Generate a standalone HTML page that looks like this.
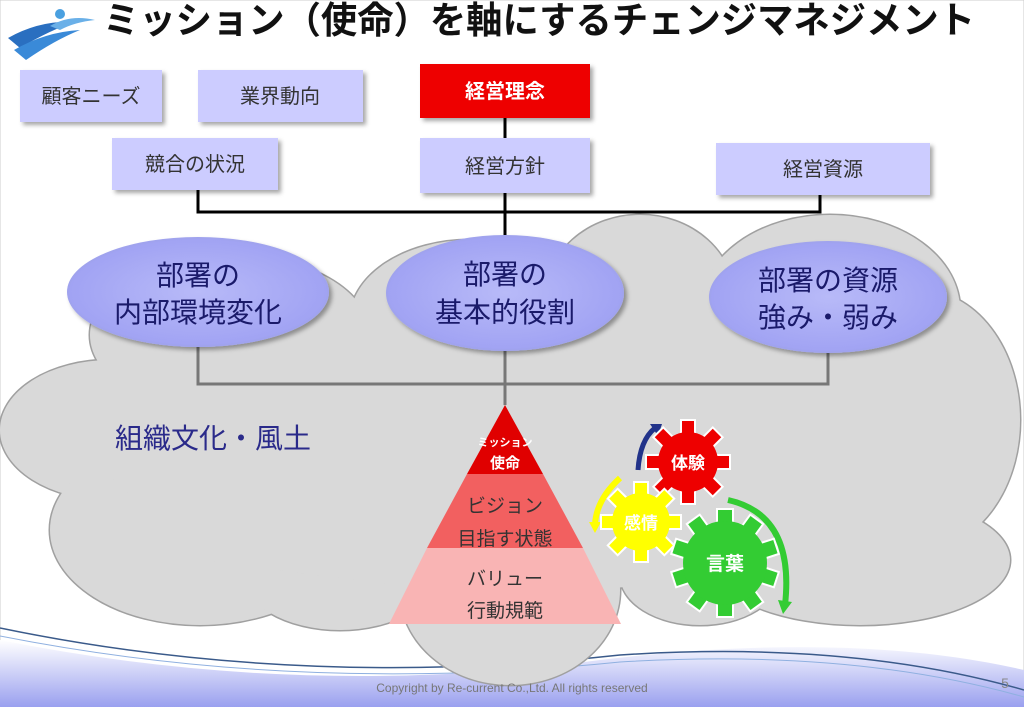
<!DOCTYPE html>
<html><head><meta charset="utf-8"><style>
body{margin:0;width:1024px;height:707px;overflow:hidden;background:#fff;font-family:"Liberation Sans","Noto Sans CJK JP",sans-serif}
svg text{font-family:"Liberation Sans","Noto Sans CJK JP",sans-serif}
</style></head><body>
<svg width="1024" height="707" viewBox="0 0 1024 707" xmlns="http://www.w3.org/2000/svg">
<defs>
<linearGradient id="bot" x1="0" y1="0" x2="0" y2="1"><stop offset="0" stop-color="#fff"/><stop offset="1" stop-color="#9aa0ef"/></linearGradient>
<radialGradient id="ell" cx="0.5" cy="0.5" r="0.6"><stop offset="0" stop-color="#b8baf8"/><stop offset="1" stop-color="#9c9ef2"/></radialGradient>
<filter id="sh"><feDropShadow dx="3" dy="3" stdDeviation="2" flood-color="#000" flood-opacity="0.35"/></filter>
</defs>
<rect x="0" y="0" width="1024" height="707" fill="#fff"/>
<rect x="0" y="0" width="1024" height="707" fill="none" stroke="#ccc"/>
<path d="M0 640 Q300 700 600 660 Q850 630 1024 670 L1024 707 L0 707Z" fill="url(#bot)"/>
<path d="M0 628 Q300 690 620 655 Q850 640 1024 690" fill="none" stroke="#3a5a8a" stroke-width="1.5"/>
<path d="M0 636 Q300 695 620 662 Q850 648 1024 697" fill="none" stroke="#8fb0e0" stroke-width="1"/>
<g fill="#d9d9d9" stroke="#a0a0a0" stroke-width="3">
<ellipse cx="230" cy="335" rx="140" ry="80"/>
<ellipse cx="470" cy="320" rx="120" ry="80"/>
<ellipse cx="640" cy="300" rx="95" ry="85"/>
<ellipse cx="830" cy="310" rx="130" ry="95"/>
<ellipse cx="920" cy="420" rx="100" ry="130"/>
<ellipse cx="110" cy="430" rx="110" ry="70"/>
<ellipse cx="200" cy="530" rx="150" ry="95"/>
<ellipse cx="340" cy="570" rx="100" ry="60"/>
<ellipse cx="510" cy="590" rx="110" ry="95"/>
<ellipse cx="860" cy="560" rx="150" ry="65"/>
<ellipse cx="700" cy="575" rx="80" ry="50"/>
</g>
<g fill="#d9d9d9">
<ellipse cx="230" cy="335" rx="140" ry="80"/>
<ellipse cx="470" cy="320" rx="120" ry="80"/>
<ellipse cx="640" cy="300" rx="95" ry="85"/>
<ellipse cx="830" cy="310" rx="130" ry="95"/>
<ellipse cx="920" cy="420" rx="100" ry="130"/>
<ellipse cx="110" cy="430" rx="110" ry="70"/>
<ellipse cx="200" cy="530" rx="150" ry="95"/>
<ellipse cx="340" cy="570" rx="100" ry="60"/>
<ellipse cx="510" cy="590" rx="110" ry="95"/>
<ellipse cx="860" cy="560" rx="150" ry="65"/>
<ellipse cx="700" cy="575" rx="80" ry="50"/>
<polygon points="120,330 900,300 950,500 860,560 510,600 200,560 60,430"/>
</g>
<g>
<path d="M8 38 Q40 20 75 22 Q50 30 20 48Z" fill="#2a6fc0"/>
<path d="M14 50 Q45 32 80 30 Q55 40 26 60Z" fill="#3a8ad8"/>
<path d="M50 26 Q70 14 95 20 Q75 22 60 30Z" fill="#6ab0e8"/>
<circle cx="60" cy="14" r="5" fill="#4aa0e0"/>
</g>
<text x="103" y="33" font-size="37" font-weight="bold" fill="#111" textLength="872" lengthAdjust="spacingAndGlyphs">ミッション（使命）を軸にするチェンジマネジメント</text>
<g stroke="#000" stroke-width="3" fill="none">
<line x1="505" y1="118" x2="505" y2="245"/>
<polyline points="198,190 198,212 820,212 820,195"/>
</g>
<g filter="url(#sh)">
<rect x="20" y="70" width="142" height="52" fill="#ccccff"/>
<rect x="198" y="70" width="165" height="52" fill="#ccccff"/>
<rect x="420" y="64" width="170" height="54" fill="#ee0000"/>
<rect x="112" y="138" width="166" height="52" fill="#ccccff"/>
<rect x="420" y="138" width="170" height="55" fill="#ccccff"/>
<rect x="716" y="143" width="214" height="52" fill="#ccccff"/>
</g>
<g font-size="20" fill="#333" text-anchor="middle">
<text x="91" y="103">顧客ニーズ</text>
<text x="280" y="103">業界動向</text>
<text x="505" y="98" fill="#fff" font-weight="bold">経営理念</text>
<text x="195" y="171">競合の状況</text>
<text x="505" y="173">経営方針</text>
<text x="823" y="176">経営資源</text>
</g>
<g stroke="#777" stroke-width="3" fill="none">
<polyline points="198,340 198,384 828,384 828,345"/>
<line x1="505" y1="345" x2="505" y2="405"/>
</g>
<g stroke="#a0a3ee" stroke-width="2" fill="url(#ell)" filter="url(#sh)">
<ellipse cx="198" cy="292" rx="130" ry="54"/>
<ellipse cx="505" cy="293" rx="118" ry="57"/>
<ellipse cx="828" cy="297" rx="118" ry="55"/>
</g>
<g font-size="28" fill="#1a1a6a" text-anchor="middle">
<text x="198" y="285">部署の</text><text x="198" y="322">内部環境変化</text>
<text x="505" y="284">部署の</text><text x="505" y="322">基本的役割</text>
<text x="828" y="290">部署の資源</text><text x="828" y="327">強み・弱み</text>
</g>
<text x="115" y="448" font-size="28" fill="#2a2a8a">組織文化・風土</text>
<polygon points="505,405 543,474 467,474" fill="#e00000"/>
<polygon points="467,474 543,474 583,548 427,548" fill="#f26060"/>
<polygon points="427,548 583,548 621,624 389,624" fill="#f9b4b4"/>
<g text-anchor="middle">
<text x="505" y="446" font-size="11" font-weight="bold" fill="#fff">ミッション</text>
<text x="505" y="468" font-size="15" font-weight="bold" fill="#fff">使命</text>
<text x="505" y="512" font-size="19" fill="#333">ビジョン</text>
<text x="505" y="545" font-size="19" fill="#333">目指す状態</text>
<text x="505" y="585" font-size="19" fill="#333">バリュー</text>
<text x="505" y="617" font-size="19" fill="#333">行動規範</text>
</g>
<path d="M638 470 Q640 440 655 428" fill="none" stroke="#22338a" stroke-width="5"/>
<polygon points="650,424 662,424 658,436" fill="#22338a"/>
<path d="M620 478 Q596 500 595 525" fill="none" stroke="#ffff00" stroke-width="6"/>
<polygon points="589,522 601,522 595,533" fill="#ffff00"/>
<path d="M728 500 Q795 515 785 605" fill="none" stroke="#33cc33" stroke-width="6"/>
<polygon points="778,600 792,602 783,614" fill="#33cc33"/>
<g stroke="#fff" stroke-width="2">
<g fill="#ee0000" transform="translate(688,462)">
<g><rect x="-7" y="-42" width="14" height="84"/><rect x="-7" y="-42" width="14" height="84" transform="rotate(45)"/><rect x="-7" y="-42" width="14" height="84" transform="rotate(90)"/><rect x="-7" y="-42" width="14" height="84" transform="rotate(135)"/></g>
<circle r="30" stroke="none"/>
</g>
<g fill="#ffff00" transform="translate(641,522)">
<g><rect x="-7" y="-40" width="14" height="80"/><rect x="-7" y="-40" width="14" height="80" transform="rotate(45)"/><rect x="-7" y="-40" width="14" height="80" transform="rotate(90)"/><rect x="-7" y="-40" width="14" height="80" transform="rotate(135)"/></g>
<circle r="29" stroke="none"/>
</g>
<g fill="#33cc33" transform="translate(725,563)">
<g><rect x="-8" y="-54" width="16" height="108"/><rect x="-8" y="-54" width="16" height="108" transform="rotate(36)"/><rect x="-8" y="-54" width="16" height="108" transform="rotate(72)"/><rect x="-8" y="-54" width="16" height="108" transform="rotate(108)"/><rect x="-8" y="-54" width="16" height="108" transform="rotate(144)"/></g>
<circle r="42" stroke="none"/>
</g>
</g>
<g text-anchor="middle" font-weight="bold" fill="#fff">
<text x="688" y="469" font-size="17">体験</text>
<text x="641" y="529" font-size="17">感情</text>
<text x="725" y="570" font-size="19">言葉</text>
</g>
<text x="512" y="692" font-size="12" fill="#777" text-anchor="middle">Copyright by Re-current Co.,Ltd. All rights reserved</text>
<text x="1005" y="688" font-size="14" fill="#888" text-anchor="middle">5</text>
</svg>
</body></html>
